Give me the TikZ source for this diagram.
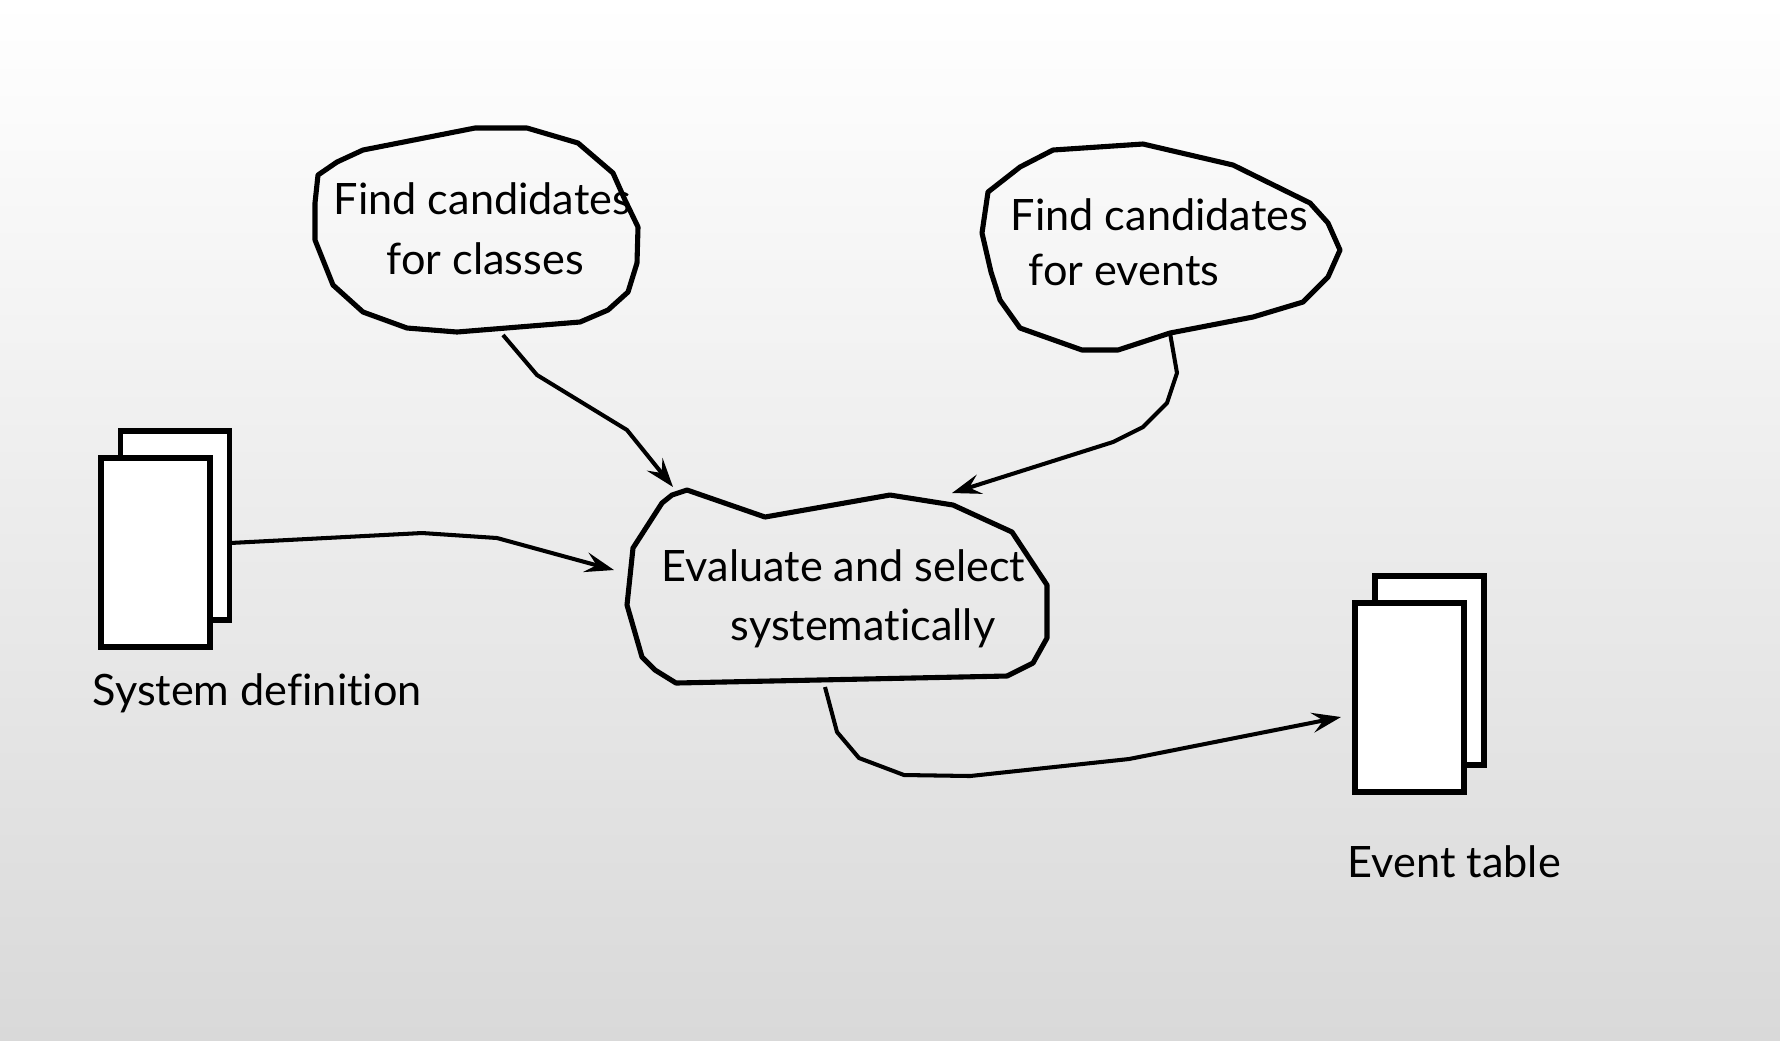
\documentclass[tikz,border=0pt]{standalone}
\usepackage{fontspec}
\setmainfont[Ligatures=NoCommon]{Lato}
\usetikzlibrary{arrows.meta}
\definecolor{bgT}{HTML}{FFFFFF}
\definecolor{bgB}{HTML}{D9D9D9}
\tikzset{
  blob/.style={draw=black,line width=1.45pt,line join=round},
  flow/.style={draw=black,line width=1.15pt,line join=round,-{Stealth[length=2.9mm,width=2mm,inset=1.1mm]}},
  doc/.style={draw=black,fill=white,line width=1.45pt,rectangle,inner sep=0pt,minimum width=10.9mm,minimum height=18.9mm},
  txt/.style={anchor=base west,inner sep=0pt,font=\fontsize{12.3}{15}\selectfont},
}
\begin{document}
\begin{tikzpicture}[x=0.1mm,y=-0.1mm]
\shade[top color=bgT,bottom color=bgB] (0,0) rectangle (1780,1040);
\useasboundingbox (0,0) rectangle (1780,1040);
% --- bubbles ---
\draw[blob] (363,150) -- (475,128) -- (527,128) -- (578,143) -- (613,173) -- (625,200) -- (638,227) -- (637,263) -- (628,292) -- (608,310) -- (580,322) -- (457,332) -- (407,328) -- (363,312) -- (333,285) -- (315,240) -- (315,203) -- (318,175) -- (337,162) -- cycle;
\draw[blob] (1053,150) -- (1143,144) -- (1233,165) -- (1310,203) -- (1328,223) -- (1340,250) -- (1328,277) -- (1303,302) -- (1253,317) -- (1170,333) -- (1118,350) -- (1082,350) -- (1020,328) -- (1000,300) -- (991,272) -- (982,233) -- (988,192) -- (1020,167) -- cycle;
\draw[blob] (687,490) -- (765,517) -- (890,495) -- (953,505) -- (1012,532) -- (1047,585) -- (1047,638) -- (1033,663) -- (1007,676) -- (676,683) -- (655,670) -- (642,657) -- (627,605) -- (633,548) -- (662,503) -- (672,495) -- cycle;
\node[txt] (clsA) at (333,214) {Find candidates};
\node[txt] (clsB) at (386,274) {for classes};
\node[txt] (evtA) at (1010,230) {Find candidates};
\node[txt] (evtB) at (1028,285) {for events};
\node[txt] (evlA) at (661,581) {Evaluate and select};
\node[txt] (evlB) at (730,640) {systematically};
% --- documents ---
\node[doc] (sysback) at (175,525.5) {};
\node[doc] (sysdef) at (155.5,552.5) {};
\node[txt] (sysname) at (92,705) {System definition};
\node[doc] (tblback) at (1429.5,670.5) {};
\node[doc] (tbl) at (1409.5,697.5) {};
\node[txt] (tblname) at (1347,877) {Event table};
% --- connectors ---
\coordinate (clsout) at (503,335);
\coordinate (evtout) at (1170,333);
\coordinate (sysout) at (230,543);
\coordinate (evlout) at (825,687);
\coordinate (evlinA) at (673,487);
\coordinate (evlinB) at (952,493);
\coordinate (evlinC) at (614,570);
\coordinate (tblin) at (1341,717);
\draw[flow] (clsout) -- (537,375) -- (627,430) -- (evlinA);
\draw[flow] (evtout) -- (1177,373) -- (1167,403) -- (1143,427) -- (1113,442) -- (evlinB);
\draw[flow] (sysout) -- (422,533) -- (497,538) -- (evlinC);
\draw[flow] (evlout) -- (837,732) -- (859,758) -- (904,775) -- (970,776) -- (1129,759) -- (tblin);
\end{tikzpicture}
\end{document}
